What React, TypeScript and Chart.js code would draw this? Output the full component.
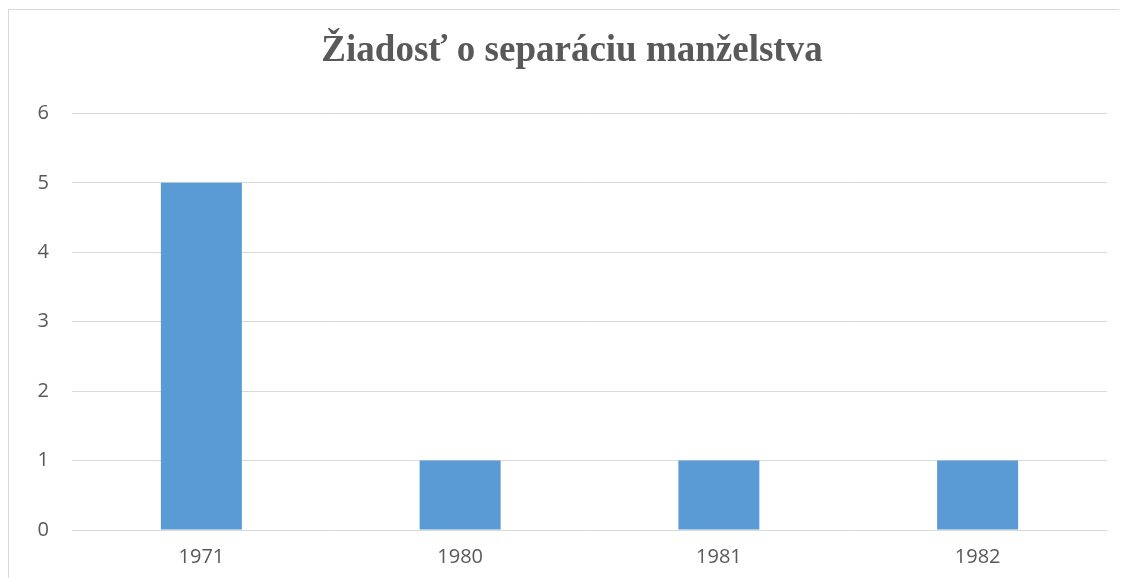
import React, { useEffect, useRef } from "react";
import { Chart, registerables } from "chart.js";

Chart.register(...registerables);

const categories: string[] = ["1971", "1980", "1981", "1982"];
const values: number[] = [5, 1, 1, 1];
const yTicks: number[] = [0, 1, 2, 3, 4, 5, 6];
const titleText = "Žiadosť o separáciu manželstva";

export default function App() {
  const ref = useRef<HTMLCanvasElement | null>(null);
  useEffect(() => {
    if (!ref.current) return;
    const chart = new Chart(ref.current, {
      type: "bar",
      data: {
        labels: categories,
        datasets: [
          {
            data: values,
            backgroundColor: "#5B9BD5",
            borderWidth: 0,
            barPercentage: 0.313,
            categoryPercentage: 1,
          },
        ],
      },
      options: {
        animation: false,
        responsive: false,
        maintainAspectRatio: false,
        layout: { padding: { left: 28, right: 20, top: 0, bottom: -6 } },
        plugins: {
          legend: { display: false },
          tooltip: { enabled: false },
          title: {
            display: true,
            text: titleText,
            color: "#595959",
            font: { family: "'Liberation Serif', 'Times New Roman', serif", size: 37, weight: "bold" },
            padding: { top: 19, bottom: 40 },
          },
        },
        scales: {
          x: {
            grid: { display: false, drawTicks: false },
            border: { display: false },
            ticks: {
              color: "#595959",
              font: { family: "'Open Sans', 'Noto Sans', sans-serif", size: 20 },
              padding: 15,
            },
          },
          y: {
            min: 0,
            max: 6,
            afterBuildTicks: (axis: any) => {
              axis.ticks = yTicks.map((v) => ({ value: v }));
            },
            afterFit: (axis: any) => {
              axis.width = 35;
            },
            grid: { color: "#D9D9D9", lineWidth: 1, drawTicks: false },
            border: { display: false },
            ticks: {
              color: "#595959",
              font: { family: "'Open Sans', 'Noto Sans', sans-serif", size: 20 },
              padding: 23,
            },
          },
        },
      },
    });
    return () => chart.destroy();
  }, []);
  return (
    <div
      style={{
        width: 1119,
        height: 568,
        marginTop: 1,
        borderLeft: "1px solid #D9D9D9",
        borderTop: "1px solid #D9D9D9",
        background: "#fff",
        overflow: "hidden",
      }}
    >
      <canvas ref={ref} width={1118} height={568} style={{ display: "block" }} />
    </div>
  );
}
